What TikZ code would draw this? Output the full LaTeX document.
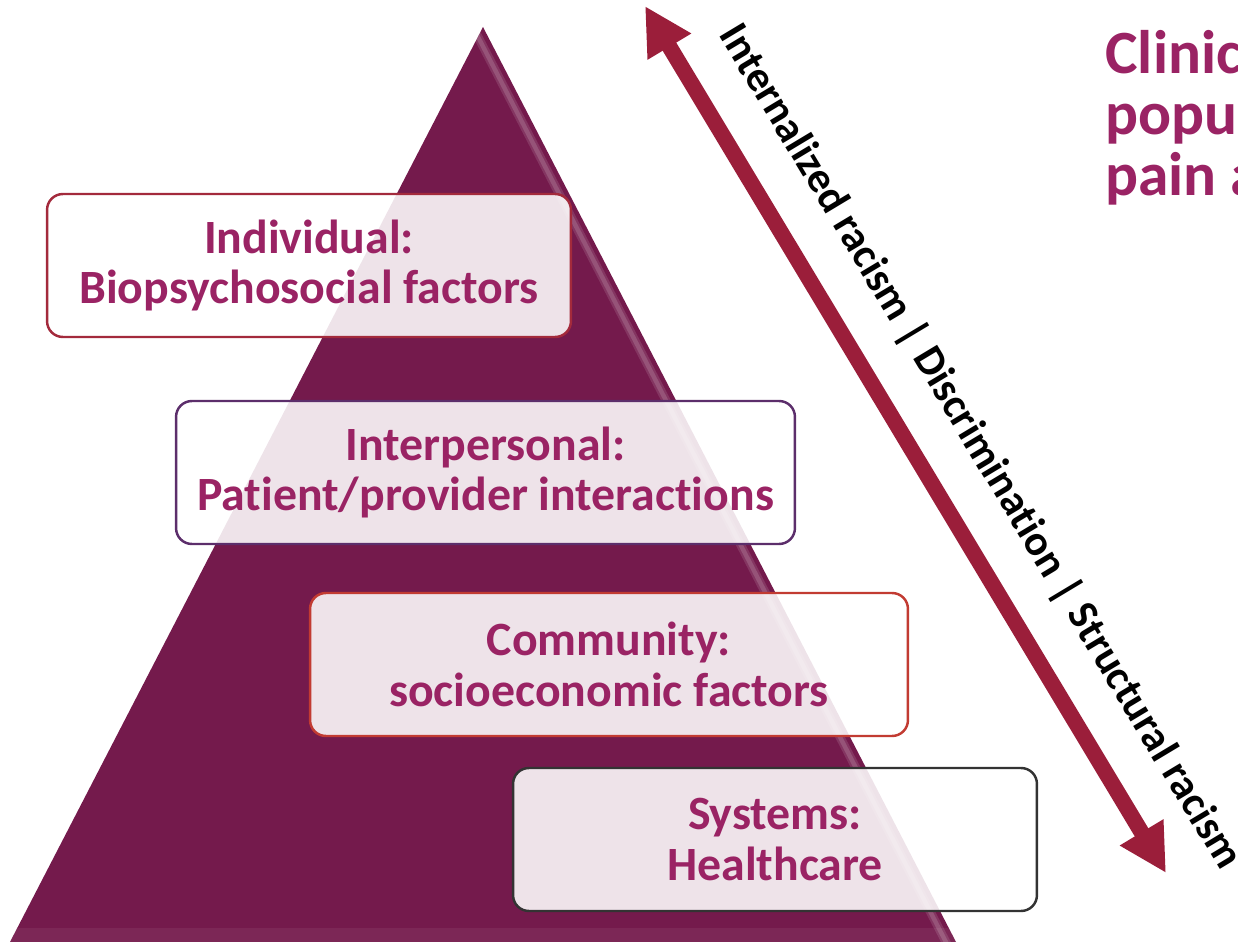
\documentclass[tikz,border=0pt]{standalone}
\usepackage{fontspec}
\setmainfont{Carlito}[Ligatures=NoCommon]
\usetikzlibrary{arrows.meta}
\definecolor{pyramid}{HTML}{741A4C}
\definecolor{levtext}{HTML}{9A2364}
\definecolor{racarrow}{HTML}{9B1E3A}
\definecolor{indline}{HTML}{A32A3C}
\definecolor{intline}{HTML}{5C2E6B}
\definecolor{comline}{HTML}{C23B32}
\definecolor{sysline}{HTML}{333333}

\tikzset{
  levelbox/.style={draw, line width=1.4pt, rounded corners=9pt, fill=white,
    fill opacity=0.88, text opacity=1, text=levtext, minimum height=2.86cm,
    align=center, inner sep=0pt,
    font=\fontsize{27.2pt}{28.6pt}\selectfont\bfseries},
  titletext/.style={anchor=base west, inner sep=0pt, text=levtext,
    font=\fontsize{35pt}{35pt}\selectfont\bfseries}
}

\begin{document}
\begin{tikzpicture}[x=0.02cm, y=-0.02cm]
\useasboundingbox (0,0) rectangle (1238,942);

% Draw pyramid
\fill[pyramid] (483,27) -- (956,942) -- (10,942) -- cycle;

% Bevel light on the right side and bottom
\begin{scope}
\clip (483,27) -- (956,942) -- (10,942) -- cycle;
\draw[line width=5pt, white, opacity=0.12] (475,31) -- (948,946);
\draw[line width=2.5pt, white, opacity=0.15] (475,31) -- (948,946);
\draw[line width=8pt, white, opacity=0.06] (0,935) -- (960,935);
\end{scope}

% Draw level boxes
\node[levelbox, draw=indline, minimum width=10.48cm] (indiv) at (309,265.5)
  {Individual:\\Biopsychosocial factors};
\node[levelbox, draw=intline, minimum width=12.38cm] (inter) at (485.5,472.5)
  {Interpersonal:\\Patient/provider interactions};
\node[levelbox, draw=comline, minimum width=11.96cm] (comm) at (609,664.5)
  {Community:\\socioeconomic factors};
\node[levelbox, draw=sysline, minimum width=10.48cm] (sys) at (775,839.5)
  {Systems:\\Healthcare};

% Arrow
\coordinate (arrtop) at (645,6);
\coordinate (arrbot) at (1166,873);
\draw[racarrow, line width=9pt,
  {Triangle[length=27pt,width=27pt]}-{Triangle[length=27pt,width=27pt]}]
  (arrtop) -- (arrbot);
\node[rotate=-59, font=\fontsize{24.4pt}{24.4pt}\selectfont\bfseries] (racism)
  at (980,447) {Internalized racism | Discrimination | Structural racism};

% Title (cut at the edge)
\node[titletext] (title1) at (1105,74) {Clinic};
\node[titletext] (title2) at (1105,135) {popu};
\node[titletext] (title3) at (1105,196) {pain a};
\end{tikzpicture}
\end{document}
